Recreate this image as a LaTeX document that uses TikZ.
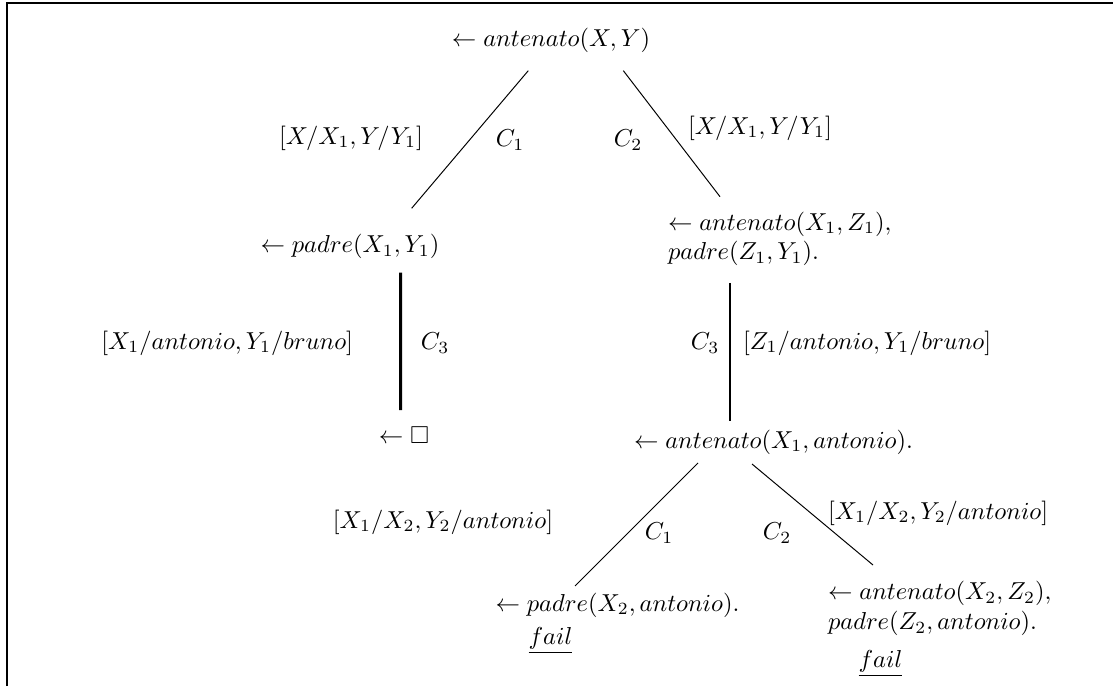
\documentclass[tikz,border=0pt]{standalone}
\usepackage{amssymb}
\usetikzlibrary{calc}
\begin{document}
\begin{tikzpicture}[x=0.4082pt,y=-0.4082pt,
  every node/.style={inner sep=0pt, outer sep=0pt},
  edge/.style={line width=0.4pt},
  bar/.style={line width=1.2pt},
  frame/.style={line width=0.8pt}]
\useasboundingbox (0,0) rectangle (1113,686);
\draw[frame] (7,686) -- (7,3) -- (1113,3);
% goals
\node (root) at (551,40) {$\leftarrow antenato(X,Y)$};
\node (n1) at (350,246.7) {$\leftarrow padre(X_1,Y_1)$};
\node[anchor=north west, align=left] (n2) at (668,211.7) {$\leftarrow antenato(X_1,Z_1),$\\$padre(Z_1,Y_1).$};
\node (leaf) at (404,435) {$\leftarrow \square$};
\node (n3) at (773.5,442) {$\leftarrow antenato(X_1,antonio).$};
\node (n4) at (617.5,605) {$\leftarrow padre(X_2,antonio).$};
\node[anchor=base] (f1) at (550.5,644) {$\underline{fail}$};
\node[anchor=north west, align=left] (n5) at (828,581.6) {$\leftarrow antenato(X_2,Z_2),$\\$padre(Z_2,antonio).$};
\node[anchor=base] (f2) at (880.5,667) {$\underline{fail}$};
% labels
\node[anchor=east] (l1) at (423,138) {$[X/X_1,Y/Y_1]$};
\node (c1) at (510,140) {$C_1$};
\node (c2) at (628,140) {$C_2$};
\node[anchor=west] (l2) at (688,128) {$[X/X_1,Y/Y_1]$};
\node[anchor=east] (l3) at (353,343) {$[X_1/antonio,Y_1/bruno]$};
\node (c3a) at (435,343) {$C_3$};
\node (c3b) at (705,343) {$C_3$};
\node[anchor=west] (l4) at (743,343) {$[Z_1/antonio,Y_1/bruno]$};
\node (l5) at (443,522) {$[X_1/X_2,Y_2/antonio]$};
\node (c4) at (659,533) {$C_1$};
\node (c5) at (777,533) {$C_2$};
\node[anchor=west] (l6) at (828,513) {$[X_1/X_2,Y_2/antonio]$};
% connectors
\draw[edge] ($(root.south)+(-22.7,18.4)$) -- ($(n1.north)+(61.7,-26.2)$);
\draw[edge] ($(root.south)+(72.3,18.4)$) -- ($(n2.north west)+(52,-15)$);
\draw[bar] ($(n1.south)+(50.7,13.7)$) -- ($(leaf.north)+(-3.3,-16.5)$);
\draw[bar] ($(n2.south west)+(62,17.2)$) -- ($(n3.north)+(-43.5,-8.75)$);
\draw[edge] ($(n3.south)+(-75.5,8.75)$) -- ($(n4.north)+(-42.5,-6.75)$);
\draw[edge] ($(n3.south)+(-21.5,9.75)$) -- ($(n5.north west)+(45,-16.6)$);
\end{tikzpicture}
\end{document}
